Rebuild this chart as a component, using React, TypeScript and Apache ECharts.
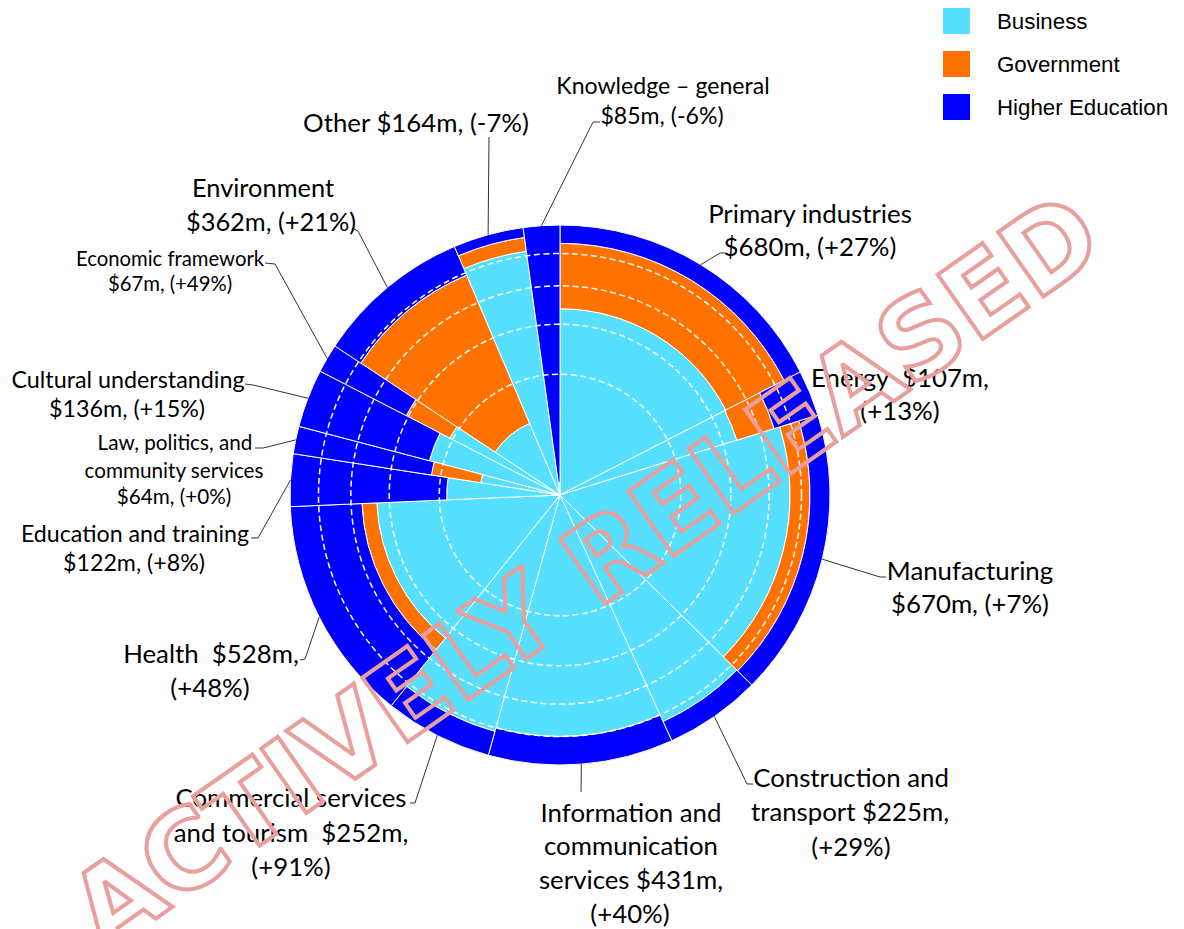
import React, { useEffect, useRef } from "react";
import * as echarts from "echarts";

// ---------- data ----------
const categories = [
  "Primary industries",
  "Energy",
  "Manufacturing",
  "Construction and transport",
  "Information and communication services",
  "Commercial services and tourism",
  "Health",
  "Education and training",
  "Law, politics, and community services",
  "Cultural understanding",
  "Economic framework",
  "Environment",
  "Other",
  "Knowledge – general",
];
const totals = [680, 107, 670, 225, 431, 252, 528, 122, 64, 136, 67, 362, 164, 85];
const changes = ["+27%", "+13%", "+7%", "+29%", "+40%", "+91%", "+48%", "+8%", "+0%", "+15%", "+49%", "+21%", "-7%", "-6%"];
// share of each sector's spend (%)
const businessShare = [47.6, 47, 72.6, 85, 80, 82.5, 46.1, 17.6, 8.8, 25, 21, 8.3, 83, 0.2];
const governmentShare = [39.3, 22, 13.1, 0, 0, 0, 7.8, 0, 14.4, 0, 20, 70, 9.7, 0];
const higherEdShare = [13.1, 31, 14.3, 15, 20, 17.5, 46.1, 82.4, 76.8, 75, 59, 21.7, 7.3, 99.8];
const seriesNames = ["Business", "Government", "Higher Education"];
const gridShares = [20, 40, 60, 80];

// ---------- style / layout ----------
const seriesColors = ["#56DFFF", "#FF7200", "#0000FF"];
const FONT_K = 0.94;
type LabelSpec = { size: number; lines: [string, number, number][]; leader: [number, number][] };
const labelLayout: LabelSpec[] = [
  { size: 27.4, lines: [["Primary industries", 810, 213], ["{v}, ({c})", 810, 246]], leader: [[720, 253], [725, 253]] },
  { size: 27.5, lines: [["Energy  {v},", 900, 377], ["({c})", 900, 410]], leader: [] },
  { size: 27.5, lines: [["Manufacturing", 970, 570], ["{v}, ({c})", 970, 603]], leader: [[880, 577], [886, 577]] },
  { size: 27.5, lines: [["Construction and", 851, 777], ["transport {v},", 850, 811], ["({c})", 851, 846]], leader: [[747, 784], [753, 784]] },
  { size: 27.5, lines: [["Information and", 631, 812], ["communication", 631, 845], ["services {v},", 631, 879], ["({c})", 630, 913]], leader: [[581, 792]] },
  { size: 27.5, lines: [["Commercial services", 291, 797], ["and tourism  {v},", 291, 832], ["({c})", 291, 866]], leader: [[415, 803], [410, 803]] },
  { size: 27.5, lines: [["Health  {v},", 211, 653], ["({c})", 210, 687]], leader: [[305, 659], [300, 660]] },
  { size: 24.7, lines: [["Education and training", 135, 533], ["{v}, ({c})", 134, 562]], leader: [[258, 538], [251, 538]] },
  { size: 22, lines: [["Law, politics, and", 175, 442], ["community services", 174, 470], ["{v}, ({c})", 174, 496]], leader: [[263, 448], [255, 448]] },
  { size: 24.8, lines: [["Cultural understanding", 128, 379], ["{v}, ({c})", 127, 408]], leader: [[253, 385], [245, 384]] },
  { size: 21.6, lines: [["Economic framework", 170, 258], ["{v}, ({c})", 170, 283]], leader: [[275, 264], [265, 263]] },
  { size: 27, lines: [["Environment", 263, 187], ["{v}, ({c})", 271, 221]], leader: [[358, 231], [352, 228]] },
  { size: 27.5, lines: [["Other {v}, ({c})", 416, 122]], leader: [[489, 137]] },
  { size: 24.6, lines: [["Knowledge – general", 663, 85], ["{v}, ({c})", 662, 115]], leader: [[593, 122], [600, 122]] },
];

function dist(p: number[], c: number[]) {
  return Math.hypot(p[0] - c[0], p[1] - c[1]);
}

export default function App() {
  const ref = useRef<HTMLDivElement>(null);
  useEffect(() => {
    document.body.style.margin = "0";
    const chart = echarts.init(ref.current!, undefined, { renderer: "svg" });
    const grand = totals.reduce((a, b) => a + b, 0);
    const starts: number[] = [];
    let acc = 0;
    totals.forEach((t) => {
      starts.push(acc);
      acc += t;
    });
    const layers = [businessShare, governmentShare, higherEdShare];
    const layerData = layers.map((arr, li) =>
      totals.map((t, i) => {
        let below = 0;
        for (let k = 0; k < li; k++) below += layers[k][i];
        const sum = businessShare[i] + governmentShare[i] + higherEdShare[i];
        return {
          name: categories[i],
          value: [starts[i], starts[i] + t, Math.sqrt(below / sum), Math.sqrt((below + arr[i]) / sum)],
        };
      })
    );

    const renderSector = (params: any, api: any) => {
      const a0 = api.value(0), a1 = api.value(1), r0 = api.value(2), r1 = api.value(3);
      if (r1 - r0 <= 1e-6) return null;
      const c = api.coord([0, a0]);
      const pIn = api.coord([r0, a0]);
      const pOut0 = api.coord([r1, a0]);
      const pOut1 = api.coord([r1, a1]);
      let t0 = Math.atan2(pOut0[1] - c[1], pOut0[0] - c[0]);
      let t1 = Math.atan2(pOut1[1] - c[1], pOut1[0] - c[0]);
      if (t1 <= t0) t1 += Math.PI * 2;
      return {
        type: "sector",
        shape: { cx: c[0], cy: c[1], r0: dist(pIn, c), r: dist(pOut0, c), startAngle: t0, endAngle: t1, clockwise: true },
        style: { fill: api.visual("color"), stroke: "#ffffff", lineWidth: 1 },
      };
    };

    const sectorSeries = layerData.map((data, li) => ({
      type: "custom",
      name: seriesNames[li],
      coordinateSystem: "polar",
      itemStyle: { color: seriesColors[li] },
      encode: { angle: [0, 1], radius: [2, 3] },
      renderItem: renderSector,
      data,
      z: 2,
      silent: true,
    }));

    const gridSeries = {
      type: "custom",
      name: "grid",
      coordinateSystem: "polar",
      encode: { radius: 0 },
      data: gridShares.map((g) => [Math.sqrt(g / 100)]),
      z: 3,
      silent: true,
      renderItem: (params: any, api: any) => {
        const c = api.coord([0, 0]);
        const p = api.coord([api.value(0), 0]);
        return {
          type: "circle",
          shape: { cx: c[0], cy: c[1], r: dist(p, c) },
          style: { fill: "none", stroke: "#ffffff", lineWidth: 1.5, lineDash: [6, 3.5] },
        };
      },
    };

    const labelSeries = {
      type: "custom",
      name: "labels",
      coordinateSystem: "polar",
      encode: { radius: 0, angle: 1 },
      data: totals.map((t, i) => [1, starts[i] + t / 2]),
      z: 4,
      silent: true,
      renderItem: (params: any, api: any) => {
        const i = params.dataIndex;
        const spec = labelLayout[i];
        const p = api.coord([api.value(0), api.value(1)]);
        const children: any[] = [];
        if (spec.leader.length) {
          children.push({
            type: "polyline",
            shape: { points: [p, ...spec.leader] },
            style: { fill: "none", stroke: "#333333", lineWidth: 1 },
          });
        }
        spec.lines.forEach(([tpl, x, y]) => {
          const text = tpl.replace("{v}", "$" + totals[i] + "m").replace("{c}", changes[i]);
          children.push({
            type: "text",
            style: {
              text,
              x,
              y,
              fill: "#000000",
              font: `${(spec.size * FONT_K).toFixed(1)}px Lato`,
              align: "center",
              verticalAlign: "middle",
              textAlign: "center",
              textVerticalAlign: "middle",
            },
          });
        });
        return { type: "group", children };
      },
    };

    chart.setOption({
      animation: false,
      backgroundColor: "#ffffff",
      polar: { center: [560, 495], radius: 270 },
      angleAxis: {
        type: "value",
        min: 0,
        max: grand,
        startAngle: 90,
        clockwise: true,
        axisLine: { show: false },
        axisTick: { show: false },
        axisLabel: { show: false },
        splitLine: { show: false },
      },
      radiusAxis: {
        type: "value",
        min: 0,
        max: 1,
        axisLine: { show: false },
        axisTick: { show: false },
        axisLabel: { show: false },
        splitLine: { show: false },
      },
      legend: {
        data: seriesNames,
        orient: "vertical",
        left: 943,
        top: 8,
        padding: 0,
        itemWidth: 27,
        itemHeight: 26,
        itemGap: 17,
        icon: "rect",
        selectedMode: false,
        textStyle: { fontFamily: "Liberation Sans", fontSize: 22.3, color: "#000000", padding: [7, 0, 0, 22] },
      },
      graphic: [
        {
          type: "text",
          x: 585,
          y: 572,
          rotation: (35 * Math.PI) / 180,
          z: 100,
          silent: true,
          style: {
            text: "ACTIVELY RELEASED",
            font: 'bold 108px "DejaVu Sans"',
            fill: "none",
            stroke: "#E8A09E",
            lineWidth: 4,
            lineJoin: "round",
            align: "center",
            verticalAlign: "middle",
          },
        },
      ],
      series: [...sectorSeries, gridSeries, labelSeries],
    });
    return () => chart.dispose();
  }, []);
  return <div ref={ref} style={{ width: 1184, height: 929 }} />;
}
